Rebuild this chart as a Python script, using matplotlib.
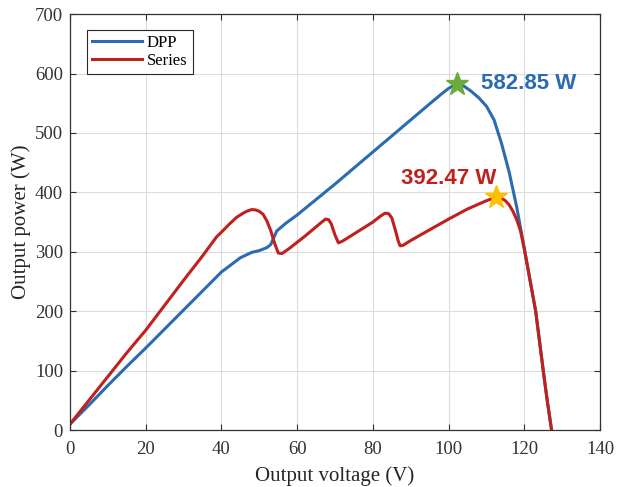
import numpy as np
import matplotlib
matplotlib.use('Agg')
import matplotlib.pyplot as plt

plt.rcParams['font.family'] = ['Liberation Serif', 'DejaVu Serif']
plt.rcParams['xtick.direction'] = 'in'
plt.rcParams['ytick.direction'] = 'in'

# DPP curve (V, W)
dpp_v = [0, 5, 10, 15, 20, 25, 30, 35, 40, 45, 48, 50, 52, 53, 54.6, 57, 60, 65, 70, 75, 80, 85, 90, 95, 98, 100, 102.3,
         104, 106, 108, 110, 112, 114, 116, 118, 120, 121, 122, 123, 124, 125, 126, 127.2]
dpp_p = [10, 42, 75, 107, 138, 170, 202, 234, 266, 290, 299, 302, 307, 312, 335, 348, 362, 388, 414, 441, 468, 495, 522, 549, 565, 575, 583,
         579, 570, 559, 545, 522, 482, 434, 375, 305, 270, 235, 200, 150, 100, 52, 0]

# Series curve (V, W)
ser_v = [0, 5, 10, 15, 20, 25, 30, 35, 38.7, 40, 42, 44, 46, 47, 48, 49, 50, 51, 52, 53, 54, 55, 56, 58, 62, 65, 66.5, 67.5, 68.3, 69, 70, 70.9,
         72, 76, 80, 82, 83.2, 84.2, 85, 86, 86.7, 87.2, 88, 90, 95, 100, 105, 110, 112.5, 114, 115, 116, 117, 118, 119, 120,
         121, 122, 123, 124, 125, 126, 127.2]
ser_p = [10, 50, 90, 130, 168, 210, 252, 293, 325, 333, 346, 358, 366, 369, 371, 370.5, 368, 363, 352, 336, 315, 298, 297, 306, 326, 342, 350, 355, 354, 347, 328, 315,
         318, 334, 350, 360, 365, 364, 357, 335, 318, 310, 311, 319, 337, 355, 372, 386, 392, 390, 386, 379, 368, 354, 335, 305,
         270, 235, 200, 150, 100, 52, 0]

mpp_dpp = (102.3, 582.85)
mpp_ser = (112.5, 392.47)

c_blue = '#2b6cb0'
c_red = '#c0201e'

fig = plt.figure(figsize=(6.17, 4.87), dpi=100)
ax = fig.add_axes([0.1135, 0.117, 0.859, 0.854])

ax.plot(dpp_v, dpp_p, '-', c=c_blue, lw=2.2, label='DPP')
ax.plot(ser_v, ser_p, '-', c=c_red, lw=2.2, label='Series')

ax.plot(*mpp_dpp, marker='*', ms=17, c='#6aab3c', mec='#6aab3c', zorder=5)
ax.plot(*mpp_ser, marker='*', ms=17, c='#ffc000', mec='#ffc000', zorder=5)

ax.text(108.6, 583, '%.2f W' % mpp_dpp[1], color=c_blue, fontsize=16, fontweight='bold',
        family='Liberation Sans', va='center', ha='left')
ax.text(112.6, 424, '%.2f W' % mpp_ser[1], color=c_red, fontsize=16, fontweight='bold',
        family='Liberation Sans', va='center', ha='right')

ax.set_xlim(0, 140)
ax.set_ylim(0, 700)
ax.set_xticks(np.arange(0, 141, 20))
ax.set_yticks(np.arange(0, 701, 100))
ax.tick_params(labelsize=13.5, top=True, right=True, length=4, colors='#333333')
ax.tick_params(axis='x', pad=8)
ax.tick_params(axis='y', pad=5)
ax.grid(True, color='#dcdcdc', lw=0.8)
ax.set_axisbelow(True)
for s in ax.spines.values():
    s.set_color('#333333')
    s.set_linewidth(0.9)

ax.set_xlabel('Output voltage (V)', fontsize=15, color='#262626', labelpad=6)
ax.set_ylabel('Output power (W)', fontsize=15, color='#262626', labelpad=3)

leg = ax.legend(loc='upper left', bbox_to_anchor=(0.032, 0.962), borderaxespad=0, fontsize=12, fancybox=False,
                edgecolor='#262626', framealpha=1, handlelength=3.0, borderpad=0.3,
                labelspacing=0.1, handletextpad=0.3)
leg.get_frame().set_linewidth(0.8)

plt.savefig('out.png', dpi=100)
